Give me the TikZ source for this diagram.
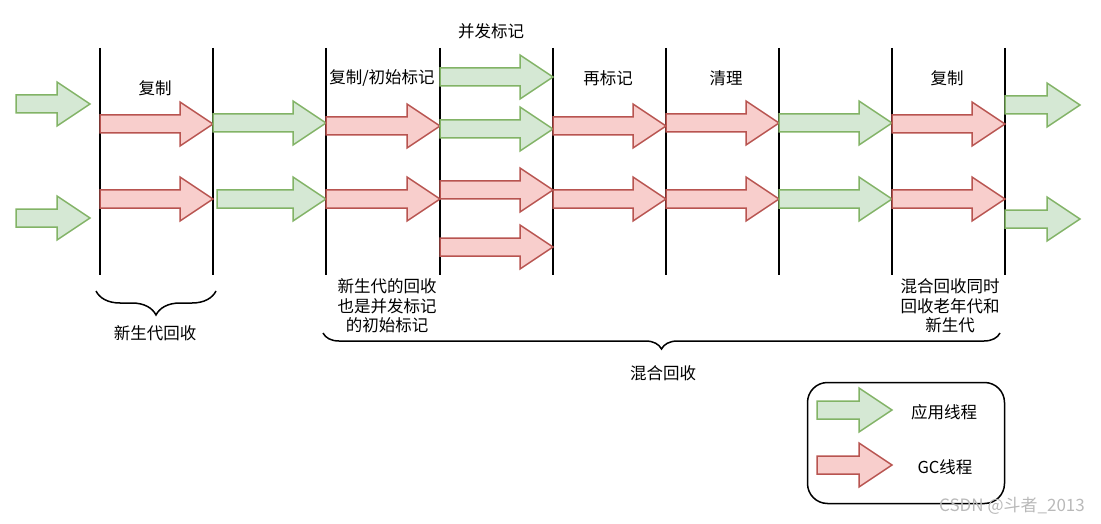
\documentclass[tikz,border=0pt]{standalone}
\usepackage{fontspec}
\setmainfont{Noto Sans CJK SC}
\usetikzlibrary{decorations.pathreplacing}
\usetikzlibrary{positioning}

\definecolor{appfill}{HTML}{D5E8D4}
\definecolor{appline}{HTML}{82B366}
\definecolor{gcfill}{HTML}{F8CECC}
\definecolor{gcline}{HTML}{B85450}

\tikzset{
  app/.style={fill=appfill,draw=appline,line width=1.5pt},
  gc/.style={fill=gcfill,draw=gcline,line width=1.5pt},
  phase/.style={draw,line width=2pt},
  phasetext/.style={font=\fontsize{16.5}{19.5}\selectfont,align=center,inner sep=0pt},
  curly/.style={draw,line width=1.5pt,decorate},
}

% style, x start, x end, y centre
\newcommand{\threadarrow}[4]{%
  \draw[#1] (#2,#4-9) -- (#3-33,#4-9) -- (#3-33,#4-22) -- (#3,#4)
    -- (#3-33,#4+22) -- (#3-33,#4+9) -- (#2,#4+9) -- cycle;}

\begin{document}
\begin{tikzpicture}[x=1pt,y=-1pt]

  \useasboundingbox (0,0) rectangle (1101,524);

  % phase borders
  \foreach \x in {100,213,326,440,553,666,779,892,1005}
    \draw[phase] (\x,48) -- (\x,275);

  % threads
  \threadarrow{app}{16}{90}{104}
  \threadarrow{app}{16}{90}{218}
  \threadarrow{gc}{100}{213}{124}
  \threadarrow{gc}{100}{213}{199}
  \threadarrow{app}{213}{326}{123}
  \threadarrow{app}{217}{326}{199}
  \threadarrow{gc}{326}{440}{126}
  \threadarrow{gc}{326}{440}{199}
  \threadarrow{app}{440}{553}{77}
  \threadarrow{app}{440}{553}{129}
  \threadarrow{gc}{440}{553}{190}
  \threadarrow{gc}{440}{553}{247}
  \threadarrow{gc}{553}{666}{126}
  \threadarrow{gc}{553}{666}{199}
  \threadarrow{gc}{666}{779}{123}
  \threadarrow{gc}{666}{779}{199}
  \threadarrow{app}{779}{892}{123}
  \threadarrow{app}{779}{892}{199}
  \threadarrow{gc}{892}{1005}{124}
  \threadarrow{gc}{892}{1005}{199}
  \threadarrow{app}{1005}{1080}{105}
  \threadarrow{app}{1005}{1080}{219}

  % phase names
  \node[phasetext] (copyA)    at (155,88) {复制};
  \node[phasetext] (copyinit) at (382,78) {复制/初始标记};
  \node[phasetext] (concmark) at (491,31) {并发标记};
  \node[phasetext] (remark)   at (608,78) {再标记};
  \node[phasetext] (cleanup)  at (726,78) {清理};
  \node[phasetext] (copyB)    at (947,78) {复制};

  \node[phasetext] (younginit) at (387,306) {新生代的回收\\也是并发标记\\的初始标记};
  \node[phasetext] (mixednote) at (950,306) {混合回收同时\\回收老年代和\\新生代};

  % braces
  \draw[curly,decoration={brace,mirror,amplitude=24pt}] (96,291) -- (216,291);
  \node[phasetext] (younggc) at (155,333) {新生代回收};
  \draw[curly,decoration={brace,mirror,amplitude=16pt}] (323,333) -- (1000,333);
  \node[phasetext] (mixedgc) at (663,373) {混合回收};

  % legend
  \node[draw,line width=1.5pt,rounded corners=20pt,minimum width=197pt,
        minimum height=121pt] (legend) at (906,443) {};
  \threadarrow{app}{817}{892}{410}
  \threadarrow{gc}{817}{892}{465}
  \node[phasetext] (applabel) at (944,412) {应用线程};
  \node[phasetext] (gclabel)  at (945,467) {GC线程};

  \node[font=\fontsize{17}{19}\selectfont,text=gray!55,inner sep=0pt]
    (mark) at (1012,506) {CSDN @斗者\_2013};

\end{tikzpicture}
\end{document}
